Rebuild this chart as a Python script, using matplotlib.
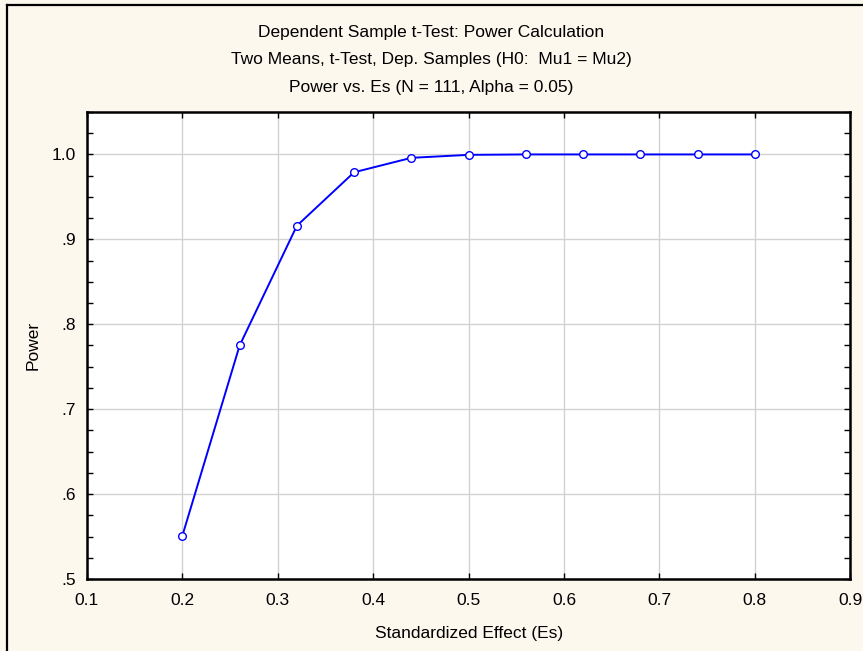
import numpy as np
import matplotlib
matplotlib.use("Agg")
import matplotlib.pyplot as plt
from matplotlib.lines import Line2D
from matplotlib.ticker import MultipleLocator, FixedLocator

plt.rcParams['font.family'] = ['Liberation Sans', 'DejaVu Sans']
plt.rcParams['font.size'] = 12

effect = [0.20, 0.26, 0.32, 0.38, 0.44, 0.50, 0.56, 0.62, 0.68, 0.74, 0.80]
power = [0.551, 0.775, 0.916, 0.979, 0.996, 0.9995, 1.0, 1.0, 1.0, 1.0, 1.0]

x_ticks = [0.1, 0.2, 0.3, 0.4, 0.5, 0.6, 0.7, 0.8, 0.9]
y_ticks = [0.5, 0.6, 0.7, 0.8, 0.9, 1.0]
y_labels = ['.5', '.6', '.7', '.8', '.9', '1.0']

titles = ["Dependent Sample t-Test: Power Calculation",
          "Two Means, t-Test, Dep. Samples (H0:  Mu1 = Mu2)",
          "Power vs. Es (N = 111, Alpha = 0.05)"]

fs = 12.5
bg = '#fdf8ee'
fig = plt.figure(figsize=(8.63, 6.51), dpi=100, facecolor=bg)
ax = fig.add_axes([0.1008, 0.1106, 0.8844, 0.7174])
ax.set_facecolor('white')

ax.plot(effect, power, color='#0000ff', lw=1.4, marker='o', ms=5.5,
        mfc='white', mec='#0000ff', mew=1.0, zorder=3)

ax.set_xlim(0.1, 0.9)
ax.set_ylim(0.5, 1.05)
ax.xaxis.set_major_locator(FixedLocator(x_ticks))
ax.set_xticklabels([f"{v:.1f}" for v in x_ticks])
ax.yaxis.set_major_locator(FixedLocator(y_ticks))
ax.set_yticklabels(y_labels)
ax.yaxis.set_minor_locator(MultipleLocator(0.025))

ax.grid(True, which='major', color='#d2d2d2', lw=1.0, zorder=0)
ax.tick_params(which='both', direction='in', top=True, right=True,
               length=4, width=1.0, colors='black', labelsize=fs)
ax.tick_params(axis='x', pad=10)
ax.tick_params(axis='y', pad=8)
for s in ax.spines.values():
    s.set_linewidth(1.8)
    s.set_color('black')

ax.set_xlabel("Standardized Effect (Es)", fontsize=fs, labelpad=13)
ax.set_ylabel("Power", fontsize=fs, labelpad=8)

for i, t in enumerate(titles):
    fig.text(0.5, 1 - (32 + 27.7 * i) / 651, t, ha='center', va='center', fontsize=fs)

# outer frame, left and top edges
fig.add_artist(Line2D([7 / 863, 7 / 863], [0, 1 - 5 / 651], color='black', lw=1.6,
                      transform=fig.transFigure))
fig.add_artist(Line2D([7 / 863, 1], [1 - 5 / 651, 1 - 5 / 651], color='black', lw=1.6,
                      transform=fig.transFigure))

fig.savefig("out.png", dpi=100, facecolor=bg)
